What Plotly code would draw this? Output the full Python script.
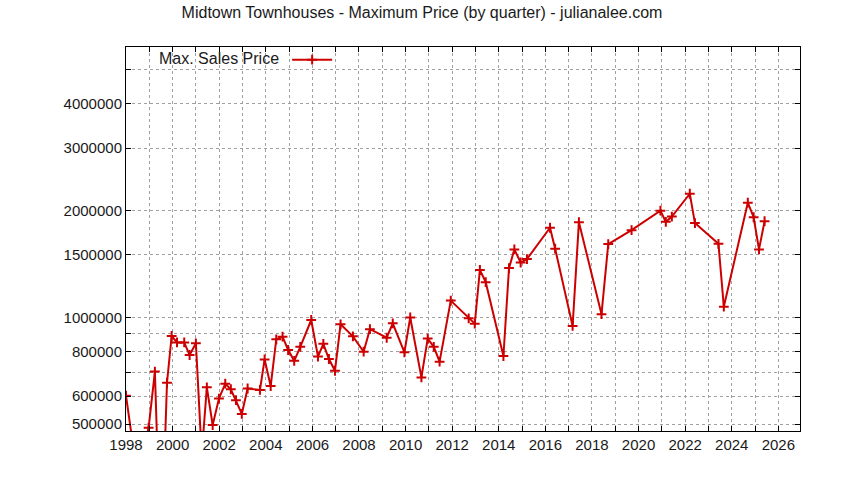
import plotly.graph_objects as go
import math

# Quarter positions (decimal year) and maximum sale price
years = [1998.00, 1998.50, 1998.97, 1999.24, 1999.50, 1999.76, 1999.96, 2000.19, 2000.50, 2000.73,
         2001.00, 2001.25, 2001.47, 2001.72, 2001.99, 2002.26, 2002.50, 2002.72, 2002.97, 2003.22,
         2003.75, 2003.95, 2004.21, 2004.45, 2004.72, 2004.96, 2005.22, 2005.48, 2005.95, 2006.24,
         2006.47, 2006.71, 2006.97, 2007.21, 2007.74, 2008.20, 2008.47, 2009.19, 2009.45, 2009.95,
         2010.20, 2010.68, 2010.95, 2011.21, 2011.46, 2011.94, 2012.71, 2012.97, 2013.19, 2013.44,
         2014.20, 2014.44, 2014.67, 2014.94, 2015.21, 2016.20, 2016.42, 2017.17, 2017.44, 2018.41,
         2018.70, 2019.70, 2020.94, 2021.17, 2021.43, 2022.20, 2022.42, 2023.43, 2023.66, 2024.69,
         2024.94, 2025.17, 2025.41]
prices = [601000, 352000, 488000, 703000, 200000, 654000, 886000, 850000, 850000, 783000,
          845000, 410000, 635000, 497000, 590000, 650000, 627000, 584000, 534000, 630000,
          624000, 761000, 640000, 867000, 882000, 809000, 754000, 826000, 983000, 775000,
          842000, 763000, 707000, 956000, 884000, 800000, 926000, 876000, 962000, 797000,
          999000, 677000, 871000, 826000, 750000, 1115000, 994000, 960000, 1360000, 1257000,
          778000, 1377000, 1555000, 1428000, 1460000, 1790000, 1562000, 946000, 1856000, 1021000,
          1610000, 1762000, 2000000, 1860000, 1925000, 2232000, 1845000, 1612000, 1072000, 2106000,
          1916000, 1555000, 1868000]

x_tick_vals = list(range(1998, 2027))
x_tick_text = [str(v) if v % 2 == 0 else "" for v in x_tick_vals]
y_tick_vals = [500000, 600000, 700000, 800000, 900000, 1000000, 1500000, 2000000, 3000000, 4000000, 5000000]
y_tick_text = ["500000", "600000", "", "800000", "", "1000000", "1500000", "2000000", "3000000", "4000000", ""]

FONT = "Liberation Sans, Arial, sans-serif"
GRID = "#a0a0a0"

fig = go.Figure()
fig.add_trace(go.Scatter(
    x=years, y=prices, mode="lines+markers", name="",
    line=dict(color="#cc0000", width=2),
    marker=dict(symbol="cross-thin", size=7, line=dict(color="#cc0000", width=2), color="#cc0000"),
    showlegend=True,
))

fig.update_layout(
    width=844, height=480,
    margin=dict(l=126, r=44, t=47, b=49),
    paper_bgcolor="white", plot_bgcolor="white",
    font=dict(family=FONT, size=15, color="#1a1a1a"),
    title=dict(text="Midtown Townhouses - Maximum Price (by quarter) - julianalee.com",
               x=0.5, xanchor="center", y=1 - 12 / 480, yanchor="middle",
               font=dict(family=FONT, size=16, color="#1a1a1a")),
    showlegend=True,
    legend=dict(x=0.046, y=1.011, xanchor="left", yanchor="top",
                bgcolor="rgba(0,0,0,0)", itemwidth=40,
                title=dict(text="Max. Sales Price", side="left", font=dict(size=16)),
                font=dict(size=16)),
)

fig.update_xaxes(
    range=[1998, 2026.93], tickmode="array", tickvals=x_tick_vals, ticktext=x_tick_text,
    showgrid=True, gridcolor=GRID, griddash="3px,3px", gridwidth=1,
    ticks="inside", ticklen=5, tickcolor="black", tickwidth=1,
    showline=True, linecolor="black", linewidth=1, mirror="ticks",
    zeroline=False, tickfont=dict(size=15),
)
fig.update_yaxes(
    type="log", range=[math.log10(478000), math.log10(5790000)],
    tickmode="array", tickvals=y_tick_vals, ticktext=y_tick_text,
    showgrid=True, gridcolor=GRID, griddash="3px,3px", gridwidth=1,
    ticks="inside", ticklen=5, tickcolor="black", tickwidth=1,
    showline=True, linecolor="black", linewidth=1, mirror="ticks",
    zeroline=False, tickfont=dict(size=15),
)

fig.write_html("out.html", config={"displayModeBar": False},
               post_script="document.body.style.margin='0px';")
